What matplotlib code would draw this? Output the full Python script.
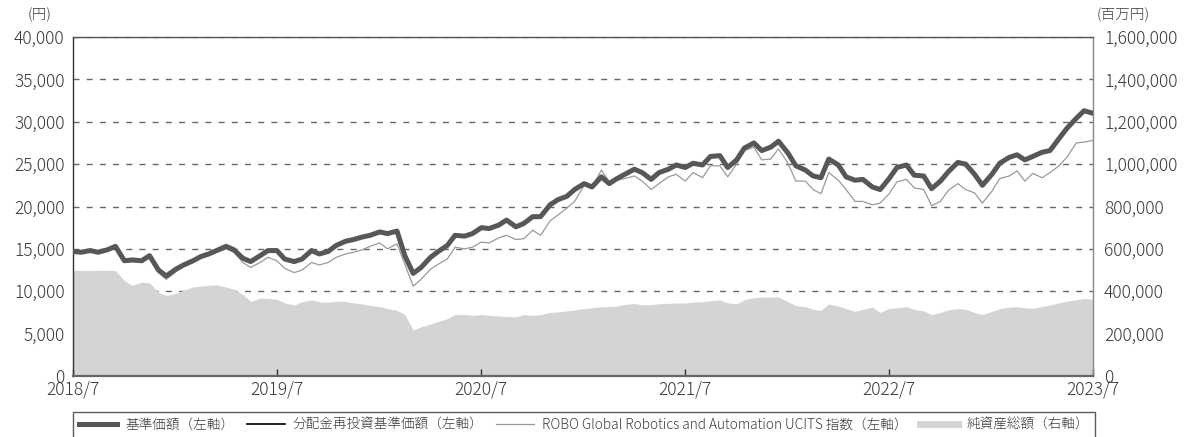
import matplotlib
matplotlib.use("Agg")
import matplotlib.pyplot as plt
from matplotlib.lines import Line2D
import pandas as pd

plt.rcParams['font.family'] = ['Noto Sans CJK JP', 'DejaVu Sans']
plt.rcParams['font.weight'] = 'light'

# semi-monthly observation dates
dates = pd.date_range("2018-07-01", "2023-07-01", freq="SMS")

# 基準価額 (円)
nav = [14.7, 14.6, 14.8, 14.6, 14.9, 15.3, 13.6, 13.7, 13.6, 14.2,
       12.5, 11.8, 12.6, 13.1, 13.6, 14.1, 14.4, 14.8, 15.3, 14.9,
       13.9, 13.5, 14.2, 14.8, 14.8, 13.8, 13.5, 13.8, 14.8, 14.4,
       14.7, 15.4, 15.9, 16.1, 16.4, 16.6, 17.0, 16.8, 17.1, 14.2,
       12.1, 12.8, 14.0, 14.7, 15.4, 16.6, 16.5, 16.8, 17.5, 17.4,
       17.8, 18.4, 17.6, 18.0, 18.8, 18.8, 20.2, 20.8, 21.2, 22.0,
       22.7, 22.3, 23.5, 22.7, 23.3, 23.8, 24.4, 24.0, 23.2, 24.0,
       24.4, 24.9, 24.6, 25.1, 24.9, 25.9, 26.0, 24.6, 25.5, 26.9,
       27.5, 26.6, 27.0, 27.7, 26.3, 24.8, 24.3, 23.6, 23.4, 25.6,
       24.9, 23.5, 23.1, 23.2, 22.3, 22.0, 23.3, 24.6, 24.9, 23.7,
       23.6, 22.1, 23.0, 24.1, 25.2, 25.0, 23.8, 22.5, 23.8, 25.1,
       25.8, 26.1, 25.5, 25.9, 26.4, 26.6, 28.0, 29.2, 30.4, 31.3,
       31.0]
nav = [v * 1000 for v in nav]

# 分配金再投資基準価額 (円) — no distributions, identical to NAV
nav_reinvested = list(nav)

# ROBO Global Robotics and Automation UCITS 指数 (円換算)
index_vals = [14.6, 14.5, 14.7, 14.5, 14.8, 15.2, 13.4, 13.5, 13.4, 14.0,
              12.2, 11.4, 12.3, 12.9, 13.4, 13.9, 14.2, 14.6, 15.0, 14.6,
              13.4, 12.8, 13.4, 14.0, 13.6, 12.7, 12.2, 12.5, 13.4, 13.1,
              13.4, 14.0, 14.4, 14.6, 14.9, 15.3, 15.7, 15.0, 15.6, 13.2,
              10.6, 11.4, 12.6, 13.2, 13.8, 15.2, 15.0, 15.2, 15.8, 15.7,
              16.3, 16.6, 16.1, 16.2, 17.2, 16.6, 18.3, 19.0, 19.8, 20.6,
              22.5, 22.3, 24.3, 22.9, 23.1, 23.3, 23.6, 23.0, 22.0, 22.7,
              23.5, 23.8, 23.0, 24.0, 23.4, 24.8, 24.8, 23.5, 25.0, 26.6,
              27.0, 25.5, 25.6, 26.8, 25.1, 23.0, 23.0, 22.0, 21.5, 24.0,
              23.1, 22.0, 20.6, 20.6, 20.2, 20.4, 21.5, 22.9, 23.2, 22.2,
              22.0, 20.1, 20.6, 21.9, 22.7, 22.0, 21.6, 20.4, 21.8, 23.3,
              23.6, 24.2, 23.0, 23.9, 23.4, 24.0, 24.8, 25.8, 27.5, 27.6,
              27.8]
index_vals = [v * 1000 for v in index_vals]

# 純資産総額 (百万円)
net_assets = [500, 498, 497, 499, 500, 497, 450, 428, 443, 440,
              395, 380, 390, 405, 420, 424, 428, 430, 420, 410,
              385, 352, 368, 366, 362, 345, 335, 350, 360, 350,
              348, 353, 352, 345, 340, 333, 328, 318, 310, 290,
              217, 232, 245, 258, 270, 290, 290, 286, 290, 286,
              283, 281, 279, 290, 286, 290, 300, 302, 307, 312,
              318, 322, 327, 328, 330, 338, 342, 336, 337, 341,
              343, 344, 345, 349, 351, 355, 359, 345, 340, 360,
              370, 372, 373, 374, 350, 333, 327, 315, 310, 340,
              330, 318, 305, 315, 325, 300, 319, 322, 327, 314,
              308, 289, 300, 312, 318, 315, 300, 290, 305, 318,
              325, 327, 322, 319, 328, 335, 345, 353, 360, 366,
              362]
net_assets = [v * 1000 for v in net_assets]

left_ticks = [0, 5000, 10000, 15000, 20000, 25000, 30000, 35000, 40000]
right_ticks = [0, 200000, 400000, 600000, 800000, 1000000, 1200000, 1400000, 1600000]
x_tick_dates = ["2018-07-01", "2019-07-01", "2020-07-01", "2021-07-01", "2022-07-01", "2023-07-01"]
x_tick_labels = ["2018/7", "2019/7", "2020/7", "2021/7", "2022/7", "2023/7"]
legend_labels = ["基準価額（左軸）", "分配金再投資基準価額（左軸）",
                 "ROBO Global Robotics and Automation UCITS 指数（左軸）", "純資産総額（右軸）"]

W, H = 1198, 437
fig = plt.figure(figsize=(W / 100, H / 100), dpi=100)
ax = fig.add_axes([73 / W, 1 - 376 / H, (1093 - 73) / W, 339 / H])
ax2 = ax.twinx()

text_color = "#3a3a3a"
area_color = "#d3d4d6"
nav_color = "#575757"
idx_color = "#9a9a9a"

# right axis: grid + area
ax2.fill_between(dates, net_assets, 0, color=area_color, lw=0, zorder=1)
ax2.set_ylim(0, 1600000)
ax2.set_yticks(right_ticks)
ax2.set_yticklabels([f"{v:,}" for v in right_ticks])
ax2.yaxis.grid(True, color="#666666", lw=1.0, ls=(0, (4.3, 5.2)), zorder=0.5)
ax2.set_axisbelow(True)
ax2.tick_params(axis='y', length=0, pad=8, labelsize=12.5, labelcolor=text_color)
for s in ax2.spines.values():
    s.set_visible(False)

# left axis: lines
ax.set_zorder(ax2.get_zorder() + 1)
ax.patch.set_visible(False)
ax.plot(dates, index_vals, color=idx_color, lw=0.9, zorder=3)
ax.plot(dates, nav_reinvested, color="black", lw=1.2, zorder=4)
ax.plot(dates, nav, color=nav_color, lw=3.6, zorder=5, solid_joinstyle="round")
ax.set_ylim(0, 40000)
ax.set_yticks(left_ticks)
ax.set_yticklabels([f"{v:,}" for v in left_ticks])
ax.tick_params(axis='y', length=0, pad=6, labelsize=12.5, labelcolor=text_color)

ax.set_xlim(pd.Timestamp("2018-07-01"), pd.Timestamp("2023-07-01"))
ax.set_xticks(pd.to_datetime(x_tick_dates))
ax.set_xticklabels(x_tick_labels)
ax.tick_params(axis='x', direction='in', length=5, width=1, color="#333333",
               pad=3, labelsize=12.5, labelcolor=text_color)

ax.spines['left'].set_color("#333333")
ax.spines['top'].set_color("#555555")
ax.spines['right'].set_color("#888888")
ax.spines['bottom'].set_color("#666666")
ax.spines['bottom'].set_linewidth(1.6)
for s in ['left', 'top', 'right']:
    ax.spines[s].set_linewidth(1.0)

fig.text(40 / W, 1 - 15 / H, "(円)", ha='center', va='center', fontsize=10.5, color=text_color)
fig.text(1123 / W, 1 - 15 / H, "(百万円)", ha='center', va='center', fontsize=10.5, color=text_color)

handles = [Line2D([], [], color=nav_color, lw=3.6),
           Line2D([], [], color="black", lw=1.2),
           Line2D([], [], color=idx_color, lw=0.9),
           Line2D([], [], color=area_color, lw=5)]
leg_h = 0.05
leg = fig.legend(handles, legend_labels, loc='upper left',
                 bbox_to_anchor=(73 / W, 1 - 412 / H - leg_h, (1095 - 73) / W, leg_h),
                 mode='expand', ncol=4, frameon=True, fancybox=False,
                 edgecolor="#333333", borderaxespad=0, handlelength=2.8,
                 handletextpad=0.6, columnspacing=1.0, fontsize=9.8,
                 borderpad=0.45, labelcolor=text_color)
leg.get_frame().set_linewidth(1.0)

fig.savefig("out.png", dpi=100, facecolor="white")
